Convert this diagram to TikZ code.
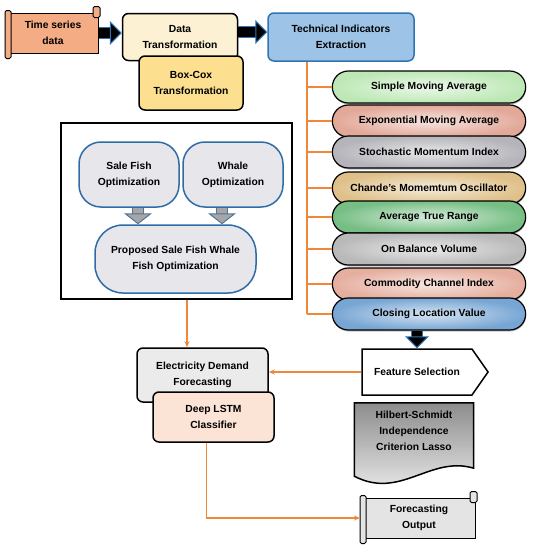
\documentclass[tikz,border=0pt]{standalone}
\usepackage{fontspec}
\setmainfont{Liberation Sans}
\usetikzlibrary{shapes.misc, shapes.symbols, arrows.meta, calc, shadows, backgrounds}

\definecolor{tsfill}{HTML}{F4AC84}
\definecolor{dtfill}{HTML}{FDF1D3}
\definecolor{bcfill}{HTML}{FCE08F}
\definecolor{tiefill}{HTML}{9DC3E6}
\definecolor{tieline}{HTML}{2E75B6}
\definecolor{optfill}{HTML}{E7E6EB}
\definecolor{optline}{HTML}{2F6CA6}
\definecolor{edffill}{HTML}{EBEBEB}
\definecolor{lstmfill}{HTML}{FBE3D5}
\definecolor{fofill}{HTML}{E4E4E4}
\definecolor{flowc}{HTML}{F0883A}
\definecolor{smac}{HTML}{BDE8B6}
\definecolor{emac}{HTML}{E2A898}
\definecolor{smic}{HTML}{B4B4BA}
\definecolor{cmoc}{HTML}{DFC08A}
\definecolor{atrc}{HTML}{76BE84}
\definecolor{obvc}{HTML}{B9B9B9}
\definecolor{ccic}{HTML}{E5AE9E}
\definecolor{clvc}{HTML}{78A6D4}

\tikzset{
  box/.style = {draw, line width=1.5pt, rounded corners=6pt, align=center, inner sep=2pt},
  optbox/.style = {draw=optline, fill=optfill, line width=1.5pt, rounded corners=22pt, align=center},
  pill/.style = {rounded rectangle, draw, line width=1.2pt, minimum width=200pt, minimum height=32pt,
    drop shadow={shadow xshift=.5pt, shadow yshift=-1.5pt, opacity=.5}},
  scroll/.style = {draw, line width=1pt, align=center},
  scrollpart/.style = {draw, line width=1pt, rounded corners=1.5pt},
  flow/.style = {draw=flowc, line width=1.4pt, -{Stealth[length=6pt,width=5pt]}},
  link/.style = {draw=flowc, line width=2pt},
  bigarrow/.style = {line width=10pt, -{Triangle[length=12pt,width=24pt,line width=1pt,color=tieline,fill=black]},
    preaction={draw=tieline, line width=12pt, -, shorten >=10pt}},
  greyarrow/.style = {draw=gray!70, line width=10pt, -{Triangle[length=11pt,width=28pt,line width=1pt,color=optline!60!gray,fill=gray!70]},
    preaction={draw=optline!60!gray, line width=11.5pt, -, shorten >=9pt}}
}

\begin{document}
\begin{tikzpicture}[x=1pt, y=-1pt, font=\fontsize{10.3}{16}\selectfont\bfseries]
\useasboundingbox (0,0) rectangle (538,550);

% input and transformation
\node[scroll, fill=tsfill, minimum width=91pt, minimum height=40pt] (ts) at (53,33) {Time series\\data};
\draw[scrollpart, fill=tsfill] ($(ts.north west)+(-2,-2)$) rectangle ($(ts.south west)+(4,5)$);
\draw[scrollpart, fill=tsfill] ($(ts.north east)+(-6,-6)$) rectangle ($(ts.north east)+(1,5)$);
\node[box, fill=dtfill, minimum width=115pt, minimum height=47pt] (dt) at (180,37) {Data\\Transformation};
\node[box, fill=bcfill, minimum width=104pt, minimum height=54pt] (bc) at (191,83) {Box-Cox\\Transformation};
\node[box, draw=tieline, fill=tiefill, minimum width=146pt, minimum height=48pt] (tie) at (341,37) {Technical Indicators\\Extraction};
\draw[bigarrow] (ts.east) -- (ts.east -| dt.west);
\draw[bigarrow] ($(dt.east)+(0,-5)$) coordinate (a2) -- (a2 -| tie.west);

% indicators
\coordinate (tr) at ($(tie.south west)+(40,0)$);
\foreach \n/\col/\y/\txt in {sma/smac/87/Simple Moving Average, ema/emac/121/Exponential Moving Average,
  smi/smic/152/Stochastic Momentum Index, cmo/cmoc/188/Chande's Momemtum Oscillator,
  atr/atrc/217/Average True Range, obv/obvc/249/On Balance Volume,
  cci/ccic/284/Commodity Channel Index, clv/clvc/314/Closing Location Value}
{
  \node[pill, inner color=\col!30!white, outer color=\col] (\n) at (429,\y) {\txt};
  \draw[link] (tr |- \n.west) -- (\n.west);
}
\draw[link] (tr) -- (tr |- clv.west);

% feature selection
\node[draw, fill=white, line width=1.5pt, signal, signal to=east, signal pointer angle=110,
  minimum width=126pt, minimum height=46pt] (fs) at (417,372) {Feature Selection};
\draw[bigarrow] (clv.south -| fs.north) -- (fs.north);
\node[align=center, minimum width=119pt, minimum height=56pt] (hsic) at (414,431) {Hilbert-Schmidt\\Independence\\Criterion Lasso};
\begin{scope}[on background layer]
\draw[line width=1.5pt, top color=gray!90, bottom color=gray!10] (hsic.north west) -- (hsic.north east)
  -- ($(hsic.south east)+(0,9)$) .. controls ($(hsic.south east)+(-43.5,-4)$) and ($(hsic.south east)+(-73.5,41)$)
  .. ($(hsic.south west)+(0,17)$) -- cycle;
\end{scope}

% output
\node[scroll, fill=fofill, minimum width=113pt, minimum height=40pt] (fo) at (419,518) {Forecasting\\Output};
\draw[scrollpart, fill=fofill] ($(fo.north west)+(-2,-2)$) rectangle ($(fo.south west)+(4,5)$);
\draw[scrollpart, fill=fofill] ($(fo.north east)+(-6,-6)$) rectangle ($(fo.north east)+(1,5)$);

% optimization
\node[draw, line width=2.5pt, minimum width=231pt, minimum height=176pt] (frame) at (176.5,211) {};
\node[optbox, minimum width=100pt, minimum height=65pt] (sfo) at (129,174.5) {Sale Fish\\Optimization};
\node[optbox, minimum width=100pt, minimum height=65pt] (wo) at (233,174.5) {Whale\\Optimization};
\node[optbox, rounded corners=28pt, minimum width=161pt, minimum height=68pt] (psfwo) at (175.5,259) {Proposed Sale Fish Whale\\Fish Optimization};
\draw[greyarrow] ($(sfo.south)+(9,0)$) coordinate (g1) -- (g1 |- psfwo.north);
\draw[greyarrow] ($(wo.south)+(-11,0)$) coordinate (g2) -- (g2 |- psfwo.north);

% forecasting
\node[box, fill=edffill, minimum width=131pt, minimum height=54pt] (edf) at (202.5,375) {Electricity Demand\\Forecasting};
\node[box, fill=lstmfill, minimum width=121pt, minimum height=50pt] (lstm) at (213.5,417) {Deep LSTM\\Classifier};

\draw[flow] ($(frame.south)+(10.5,0)$) coordinate (f1) -- (f1 |- edf.north);
\draw[flow] (fs.west) -- (fs.west -| edf.east);
\draw[flow, shorten >=2pt] ($(lstm.south)+(-7,0)$) |- (fo.west);

\end{tikzpicture}
\end{document}
